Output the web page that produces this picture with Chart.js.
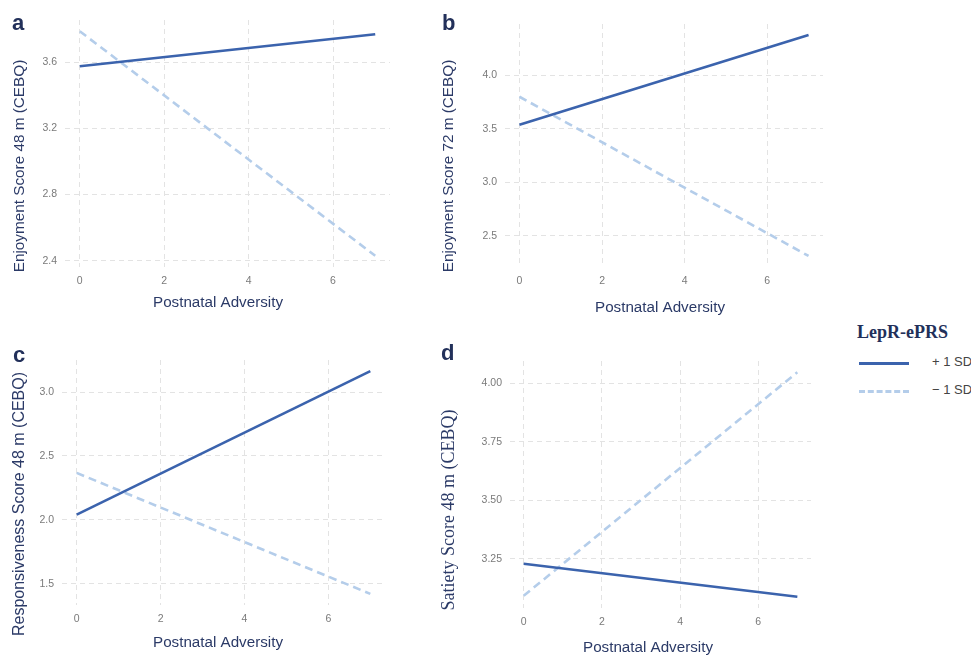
<!DOCTYPE html>
<html>
<head>
<meta charset="utf-8">
<script src="https://cdn.jsdelivr.net/npm/chart.js@4.4.1/dist/chart.umd.min.js"></script>
<style>
body{margin:0;background:#fff;width:971px;height:657px;position:relative;overflow:hidden;font-family:"Liberation Sans",Arial,sans-serif;}
.panel{position:absolute;}
.tag{position:absolute;font-weight:bold;font-size:22px;color:#22305a;font-family:"Liberation Sans",Arial,sans-serif;}
#legend{position:absolute;left:857px;top:322px;color:#22305a;}
#legend .ttl{font-family:"Liberation Serif","Times New Roman",serif;font-weight:bold;font-size:18px;}
#legend .row{position:absolute;left:2px;width:130px;height:20px;}
#legend .smp{position:absolute;left:0;top:9px;width:50px;height:0;}
#legend .lbl{position:absolute;left:73px;top:1px;font-size:13px;color:#444;white-space:nowrap;}
</style>
</head>
<body>
<canvas id="ca" class="panel" style="left:0;top:0"></canvas>
<canvas id="cb" class="panel" style="left:420px;top:0"></canvas>
<canvas id="cc" class="panel" style="left:0;top:320px"></canvas>
<canvas id="cd" class="panel" style="left:420px;top:320px"></canvas>
<div class="tag" style="left:12px;top:10px">a</div>
<div class="tag" style="left:442px;top:10px">b</div>
<div class="tag" style="left:13px;top:342px">c</div>
<div class="tag" style="left:441px;top:340px">d</div>
<div id="legend">
  <div class="ttl">LepR-ePRS</div>
  <div class="row" style="top:31px"><div class="smp" style="border-top:3px solid #3b63ad"></div><div class="lbl">+ 1 SD</div></div>
  <div class="row" style="top:59px"><div class="smp" style="border-top:3px dashed #b4cdea"></div><div class="lbl">&minus; 1 SD</div></div>
</div>
<script>
// valores (x = adversidad postnatal 0..7)
const adversity = [0, 7];
const seriesNames = ['+ 1 SD', '\u2212 1 SD'];

const enjoy48Plus = [3.576, 3.770];
const enjoy48Minus = [3.788, 2.430];
const enjoy72Plus = [3.537, 4.373];
const enjoy72Minus = [3.798, 2.314];
const resp48Plus = [2.040, 3.164];
const resp48Minus = [2.367, 1.420];
const satiety48Plus = [3.229, 3.088];
const satiety48Minus = [3.092, 4.047];

const xTicks = [0, 2, 4, 6];
const ticksA = [2.4, 2.8, 3.2, 3.6];
const ticksB = [2.5, 3.0, 3.5, 4.0];
const ticksC = [1.5, 2.0, 2.5, 3.0];
const ticksD = [3.25, 3.50, 3.75, 4.00];

const solidColor = '#3b63ad';
const dashColor = '#b4cdea';
const gridColor = '#e3e3e3';
const titleColor = '#2b3a67';

// cada panel: tamaño del canvas, margenes del area y posicion de los titulos
const panels = [
	{id:'ca', w:410, h:320, plus:enjoy48Plus, minus:enjoy48Minus, ticks:ticksA, dec:1,
	 title:'Enjoyment Score 48 m (CEBQ)', left:65, top:20, right:20, bottom:53,
	 xt:[218, 303], yt:[20, 166], yf:'15.3px "Liberation Sans"'},
	{id:'cb', w:410, h:320, plus:enjoy72Plus, minus:enjoy72Minus, ticks:ticksB, dec:1,
	 title:'Enjoyment Score 72 m (CEBQ)', left:85, top:24, right:7, bottom:53,
	 xt:[240, 308], yt:[29, 166], yf:'15.3px "Liberation Sans"'},
	{id:'cc', w:410, h:337, plus:resp48Plus, minus:resp48Minus, ticks:ticksC, dec:1,
	 title:'Responsiveness Score 48 m (CEBQ)', left:62, top:40, right:25, bottom:52,
	 xt:[218, 323], yt:[20, 184], yf:'16px "Liberation Sans"'},
	{id:'cd', w:410, h:337, plus:satiety48Plus, minus:satiety48Minus, ticks:ticksD, dec:2,
	 title:'Satiety Score 48 m (CEBQ)', left:90, top:41, right:19, bottom:49,
	 xt:[228, 328], yt:[29, 190], yf:'18px "Liberation Serif"'}
];

// dibuja los titulos de los ejes donde estan en la figura original
const axisTitles = {
	id: 'axisTitles',
	afterDraw(chart, args, opts){
		const p = opts.p;
		const ctx = chart.ctx;
		ctx.save();
		ctx.fillStyle = titleColor;
		ctx.textAlign = 'center';
		ctx.textBaseline = 'middle';
		ctx.font = '15.2px "Liberation Sans"';
		ctx.fillText('Postnatal Adversity', p.xt[0], p.xt[1]);
		ctx.translate(p.yt[0], p.yt[1]);
		ctx.rotate(-Math.PI / 2);
		ctx.font = p.yf;
		ctx.fillText(p.title, 0, 0);
		ctx.restore();
	}
};

function makePanel(p){
	const cv = document.getElementById(p.id);
	cv.width = p.w; cv.height = p.h;
	cv.style.width = p.w + 'px'; cv.style.height = p.h + 'px';

	// expansion del 5% como en ggplot
	const all = p.plus.concat(p.minus);
	const lo = Math.min(...all), hi = Math.max(...all);
	const pad = (hi - lo) * 0.05;

	const config = {
		type: 'line',
		data: {
			datasets: [
				{label: seriesNames[0], data: adversity.map((x,i)=>({x:x, y:p.plus[i]})),
				 borderColor: solidColor, borderWidth: 2.6, pointRadius: 0, fill: false},
				{label: seriesNames[1], data: adversity.map((x,i)=>({x:x, y:p.minus[i]})),
				 borderColor: dashColor, borderWidth: 2.6, borderDash: [8, 5], pointRadius: 0, fill: false}
			]
		},
		options: {
			responsive: false,
			animation: false,
			layout: {padding: {top: p.top, right: p.right, left: 0, bottom: 0}},
			plugins: {legend: {display: false}, tooltip: {enabled: false}, axisTitles: {p: p}},
			scales: {
				x: {
					type: 'linear', min: -0.35, max: 7.35,
					afterBuildTicks: s => { s.ticks = xTicks.map(v => ({value: v})); },
					afterFit: s => { s.height = p.bottom; },
					grid: {color: gridColor, lineWidth: 1, drawTicks: false},
					border: {display: false, dash: [5, 4]},
					ticks: {color: '#7a7a7a', font: {size: 10.5, family: 'Liberation Sans'}, padding: 8}
				},
				y: {
					type: 'linear', min: lo - pad, max: hi + pad,
					afterBuildTicks: s => { s.ticks = p.ticks.map(v => ({value: v})); },
					afterFit: s => { s.width = p.left; },
					grid: {color: gridColor, lineWidth: 1, drawTicks: false},
					border: {display: false, dash: [5, 4]},
					ticks: {color: '#7a7a7a', font: {size: 10.5, family: 'Liberation Sans'}, padding: 8,
						callback: v => Number(v).toFixed(p.dec)}
				}
			}
		},
		plugins: [axisTitles]
	};
	return new Chart(cv, config);
}

panels.forEach(makePanel);
</script>
</body>
</html>
